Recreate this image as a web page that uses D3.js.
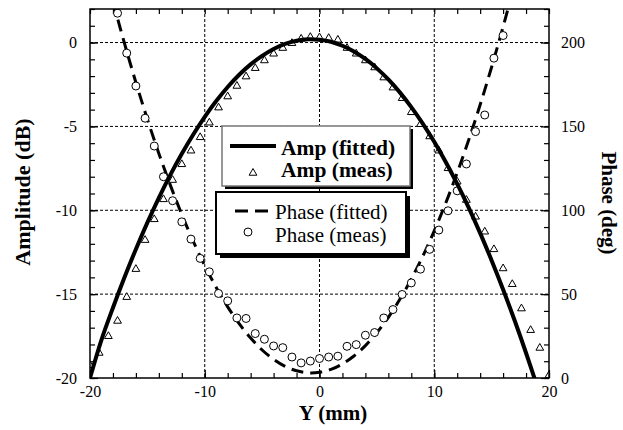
<!DOCTYPE html>
<html>
<head>
<meta charset="utf-8">
<script src="https://cdn.jsdelivr.net/npm/d3@7"></script>
<style>
body { margin: 0; background: #fff; }
text { font-family: "Liberation Serif", "Times New Roman", serif; }
</style>
</head>
<body>
<svg id="chart" width="623" height="430"></svg>
<script>
// measured positions (mm), 0.8 mm step
const measX = [-20, -19.2, -18.4, -17.6, -16.8, -16, -15.2, -14.4, -13.6, -12.8, -12, -11.2, -10.4,
    -9.6, -8.8, -8, -7.2, -6.4, -5.6, -4.8, -4, -3.2, -2.4, -1.6, -0.8, 0, 0.8, 1.6, 2.4, 3.2, 4,
    4.8, 5.6, 6.4, 7.2, 8, 8.8, 9.6, 10.4, 11.2, 12, 12.8, 13.6, 14.4, 15.2, 16, 16.8, 17.6, 18.4, 19.2, 20];
const ampMeas = [-19.24, -18.51, -17.51, -16.6, -15.18, -13.51, -11.78, -10.54, -9.35, -8.2, -7.26, -6.45, -5.65,
    -4.78, -3.88, -3.22, -2.59, -2.03, -1.53, -1.07, -0.67, -0.33, -0.04, 0.22, 0.32, 0.3, 0.26, 0.16, -0.33, -0.67, -1.07,
    -1.49, -2.09, -2.69, -3.32, -4.16, -4.87, -5.6, -6.45, -7.5, -8.3, -9.39, -10.39, -11.28, -12.33, -13.47, -14.41,
    -15.86, -17.15, -18.21, -19.84];

const phaseMeasX = measX.slice(3, 46);
const phaseMeas = [217.5, 193.7, 174.1, 154.9, 138.3, 120.0, 105.7, 93.1, 82.8, 71.3, 63.3, 50.4, 46.0,
    35.8, 35.5, 26.5, 23.1, 19.1, 18.1, 12.5, 9.0, 10.1, 11.6, 12.5, 13.0, 18.9, 19.9, 25.5, 27.1,
    35.8, 40.8, 49.8, 56.7, 64.9, 76.7, 88.2, 99.7, 111.6, 127.6, 146.9, 156.8, 190.7, 204.2];

// fitted curves, 1 mm step
const ampFitX = [-20, -19, -18, -17, -16, -15, -14, -13, -12, -11, -10, -9, -8, -7, -6, -5, -4, -3, -2, -1,
    0, 1, 2, 3, 4, 5, 6, 7, 8, 9, 10, 11, 12, 13, 14, 15, 16, 17, 18, 19];
const ampFit = [-20.0, -17.72, -15.81, -14.01, -12.32, -10.74, -9.26, -7.89, -6.63, -5.48, -4.43, -3.49, -2.65,
    -1.92, -1.3, -0.79, -0.38, -0.08, 0.11, 0.2, 0.17, 0.05, -0.19, -0.53, -0.98, -1.54, -2.2, -2.97, -3.85,
    -4.83, -5.92, -7.12, -8.43, -9.84, -11.36, -12.99, -14.72, -16.56, -18.51, -20.56];

const phaseFitX = [-18, -17, -16, -15, -14, -13, -12, -11, -10, -9, -8, -7, -6, -5, -4, -3, -2, -1,
    0, 1, 2, 3, 4, 5, 6, 7, 8, 9, 10, 11, 12, 13, 14, 15, 16, 17];
const phaseFit = [224.5, 199.6, 176.2, 154.3, 133.9, 115.0, 97.5, 81.5, 67.0, 54.0, 42.4, 32.4, 23.8, 16.7,
    11.1, 6.9, 4.3, 3.1, 3.4, 5.1, 8.4, 13.1, 19.3, 27.0, 36.2, 46.9, 59.0, 72.6, 87.7, 104.3, 122.4,
    141.9, 162.9, 185.4, 209.4, 234.8];

const xTicks = [-20, -10, 0, 10, 20];
const ampTicks = [-20, -15, -10, -5, 0];
const phaseTicks = [0, 50, 100, 150, 200];

var Dims = {
    Left: 90, Top: 9, Width: 459, Height: 369
};

var svg = d3.select("#chart");

var x = d3.scaleLinear().domain([-20, 20]).range([Dims.Left, Dims.Left + Dims.Width]);
var yAmp = d3.scaleLinear().domain([-20, 2]).range([Dims.Top + Dims.Height, Dims.Top]);
var yPhase = d3.scaleLinear().domain([0, 220]).range([Dims.Top + Dims.Height, Dims.Top]);

var x0 = Dims.Left, x1 = Dims.Left + Dims.Width;
var y0 = Dims.Top + Dims.Height, y1 = Dims.Top;

// plain hyphen for negatives, like the original
var fmt = d => String(d);

svg.append("defs").append("clipPath").attr("id", "plot-clip")
    .append("rect")
    .attr("x", x0).attr("y", y1)
    .attr("width", Dims.Width).attr("height", Dims.Height);

// grid
var grid = svg.append("g").attr("stroke", "#000").attr("stroke-width", 1).attr("stroke-dasharray", "3,2");
grid.selectAll("line.gx")
    .data(xTicks.slice(1, -1))
    .enter().append("line")
    .attr("x1", d => x(d)).attr("x2", d => x(d))
    .attr("y1", y1).attr("y2", y0);
grid.selectAll("line.gy")
    .data(ampTicks.slice(1))
    .enter().append("line")
    .attr("x1", x0).attr("x2", x1)
    .attr("y1", d => yAmp(d)).attr("y2", d => yAmp(d));

// axes, ticks pointing inward
function styleAxis(g) {
    g.select(".domain").remove();
    g.selectAll("line").attr("stroke", "#000").attr("stroke-width", 1.2);
    g.selectAll("text").attr("font-size", 16).attr("fill", "#000")
        .style("font-family", '"Liberation Serif", "Times New Roman", serif');
}

svg.append("g").attr("transform", `translate(0,${y0})`)
    .call(d3.axisBottom(x).tickValues(x.ticks(20)).tickSize(-5).tickFormat(""))
    .call(styleAxis);
svg.append("g").attr("transform", `translate(0,${y0})`)
    .call(d3.axisBottom(x).tickValues(xTicks).tickSize(-8).tickPadding(8).tickFormat(fmt))
    .call(styleAxis);
svg.append("g").attr("transform", `translate(0,${y1})`)
    .call(d3.axisTop(x).tickValues(x.ticks(20)).tickSize(-5).tickFormat(""))
    .call(styleAxis);

svg.append("g").attr("transform", `translate(${x0},0)`)
    .call(d3.axisLeft(yAmp).tickValues(d3.range(-20, 2.5, 1)).tickSize(-5).tickFormat(""))
    .call(styleAxis);
svg.append("g").attr("transform", `translate(${x0},0)`)
    .call(d3.axisLeft(yAmp).tickValues(ampTicks).tickSize(-8).tickPadding(13).tickFormat(fmt))
    .call(styleAxis);

svg.append("g").attr("transform", `translate(${x1},0)`)
    .call(d3.axisRight(yPhase).tickValues(yPhase.ticks(22)).tickSize(-5).tickFormat(""))
    .call(styleAxis);
svg.append("g").attr("transform", `translate(${x1},0)`)
    .call(d3.axisRight(yPhase).tickValues(phaseTicks).tickSize(-8).tickPadding(12).tickFormat(fmt))
    .call(styleAxis);

// plot data
var plot = svg.append("g").attr("clip-path", "url(#plot-clip)");

var phaseLine = d3.line().x(d => x(d[0])).y(d => yPhase(d[1])).curve(d3.curveCatmullRom);
var ampLine = d3.line().x(d => x(d[0])).y(d => yAmp(d[1])).curve(d3.curveCatmullRom);

plot.append("path")
    .datum(d3.zip(phaseFitX, phaseFit))
    .attr("d", phaseLine)
    .attr("fill", "none").attr("stroke", "#000")
    .attr("stroke-width", 3).attr("stroke-dasharray", "12,7");

plot.selectAll("circle.pm")
    .data(d3.zip(phaseMeasX, phaseMeas))
    .enter().append("circle")
    .attr("class", "pm")
    .attr("cx", d => x(d[0])).attr("cy", d => yPhase(d[1]))
    .attr("r", 4)
    .attr("fill", "#fff").attr("stroke", "#000").attr("stroke-width", 1);

var tri = d3.symbol().type(d3.symbolTriangle).size(26);
plot.selectAll("path.am")
    .data(d3.zip(measX, ampMeas))
    .enter().append("path")
    .attr("class", "am")
    .attr("d", tri)
    .attr("transform", d => `translate(${x(d[0])},${yAmp(d[1])})`)
    .attr("fill", "#fff").attr("stroke", "#000").attr("stroke-width", 1);

plot.append("path")
    .datum(d3.zip(ampFitX, ampFit))
    .attr("d", ampLine)
    .attr("fill", "none").attr("stroke", "#000")
    .attr("stroke-width", 4);

// frame
svg.append("rect")
    .attr("x", x0).attr("y", y1)
    .attr("width", Dims.Width).attr("height", Dims.Height)
    .attr("fill", "none").attr("stroke", "#000").attr("stroke-width", 1.5);

// legends
function legendBox(bx, by, bw, bh, stroke, sw, off) {
    svg.append("rect").attr("x", bx + off).attr("y", by + off)
        .attr("width", bw).attr("height", bh).attr("fill", "#000");
    svg.append("rect").attr("x", bx).attr("y", by)
        .attr("width", bw).attr("height", bh)
        .attr("fill", "#fff").attr("stroke", stroke).attr("stroke-width", sw);
}

legendBox(222, 126, 188, 60, "#777", 1.5, 3);
svg.append("line").attr("x1", 230).attr("x2", 276).attr("y1", 146).attr("y2", 146)
    .attr("stroke", "#000").attr("stroke-width", 4);
svg.append("text").attr("x", 281).attr("y", 155)
    .attr("font-size", 21.5).attr("font-weight", "bold").text("Amp (fitted)");
svg.append("path").attr("d", tri).attr("transform", "translate(253,173)")
    .attr("fill", "#fff").attr("stroke", "#000").attr("stroke-width", 1);
svg.append("text").attr("x", 281).attr("y", 177)
    .attr("font-size", 21.5).attr("font-weight", "bold").text("Amp (meas)");

legendBox(216, 192, 190, 62, "#000", 2, 4);
svg.append("line").attr("x1", 235).attr("x2", 268).attr("y1", 211).attr("y2", 211)
    .attr("stroke", "#000").attr("stroke-width", 3).attr("stroke-dasharray", "13,7");
svg.append("text").attr("x", 275).attr("y", 219)
    .attr("font-size", 21).text("Phase (fitted)");
svg.append("circle").attr("cx", 248).attr("cy", 232).attr("r", 4)
    .attr("fill", "#fff").attr("stroke", "#000").attr("stroke-width", 1);
svg.append("text").attr("x", 275).attr("y", 242)
    .attr("font-size", 21).text("Phase (meas)");

// axis titles
svg.append("text")
    .attr("transform", `translate(30,192) rotate(-90)`)
    .attr("text-anchor", "middle")
    .attr("font-size", 22).attr("font-weight", "bold")
    .text("Amplitude (dB)");

svg.append("text")
    .attr("transform", `translate(602,203) rotate(90)`)
    .attr("text-anchor", "middle")
    .attr("font-size", 21).attr("font-weight", "bold")
    .text("Phase (deg)");

svg.append("text")
    .attr("x", 333).attr("y", 420)
    .attr("text-anchor", "middle")
    .attr("font-size", 21).attr("font-weight", "bold")
    .text("Y (mm)");
</script>
</body>
</html>
